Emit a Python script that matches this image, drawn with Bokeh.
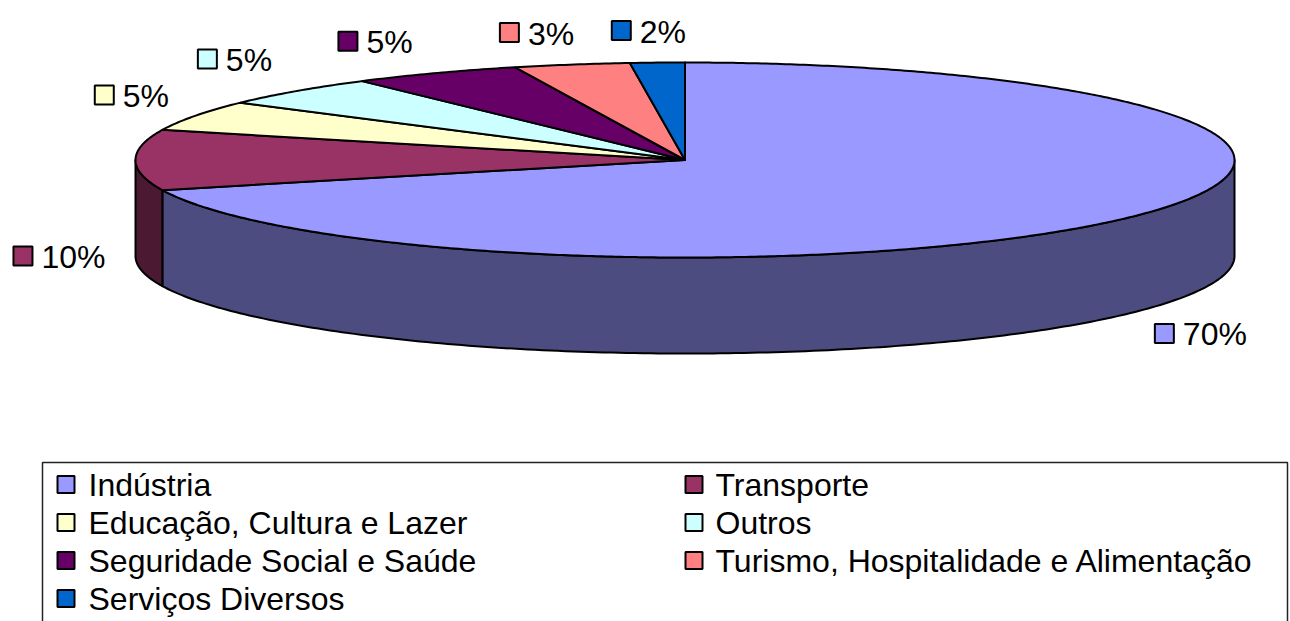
import numpy as np
from bokeh.plotting import figure
from bokeh.models import Range1d, ColumnDataSource
from bokeh.core.properties import value
from bokeh.embed import file_html
from bokeh.resources import INLINE

# ---- data ----
categories = ["Indústria", "Transporte", "Educação, Cultura e Lazer", "Outros",
              "Seguridade Social e Saúde", "Turismo, Hospitalidade e Alimentação",
              "Serviços Diversos"]
shares = [70, 10, 5, 5, 5, 3.4, 1.6]
top_colors = ["#9999FF", "#993366", "#FFFFCC", "#CCFFFF", "#660066", "#FF8080", "#0066CC"]
side_colors = ["#4C4C80", "#4C1933", "#80806A", "#6A8080", "#330033", "#804040", "#003366"]

# ---- layout / style ----
W, H = 1290, 621
FONT = value("Liberation Sans")
p = figure(width=W, height=H, x_range=Range1d(0, W), y_range=Range1d(H, 0),
           output_backend="svg", toolbar_location=None, min_border=0,
           x_axis_location=None, y_axis_location=None)
p.grid.visible = False
p.outline_line_color = None
p.background_fill_color = "white"

cx, cy, rx, ry, depth = 684.5, 159.5, 549.5, 97.5, 96.0

def ell(t_deg, dy=0.0):
    t = np.radians(t_deg)
    return cx + rx * np.cos(t), cy - ry * np.sin(t) + dy

total = float(sum(shares))
starts, ends = [], []
a = 90.0
for s in shares:
    starts.append(a)
    a -= s / total * 360.0
    ends.append(a)

# side walls (front half only)
sx, sy, sc = [], [], []
for st, en, col in zip(starts, ends, side_colors):
    lo, hi = max(en, -180.0), min(st, 0.0)
    if hi > lo:
        t = np.linspace(lo, hi, 200)
        x1, y1 = ell(t)
        x2, y2 = ell(t[::-1], depth)
        sx.append(list(x1) + list(x2))
        sy.append(list(y1) + list(y2))
        sc.append(col)
p.patches("xs", "ys", source=ColumnDataSource(dict(xs=sx, ys=sy, c=sc)),
          fill_color="c", line_color="black", line_width=2, line_join="round")

# top face wedges
tx, ty = [], []
for st, en in zip(starts, ends):
    t = np.linspace(st, en, max(4, int(abs(st - en) * 2)))
    x1, y1 = ell(t)
    tx.append([cx] + list(x1))
    ty.append([cy] + list(y1))
p.patches("xs", "ys", source=ColumnDataSource(dict(xs=tx, ys=ty, c=top_colors)),
          fill_color="c", line_color="black", line_width=2, line_join="round")

# data labels (placed outside each slice, from its mid angle)
FS = 32
MK = 19
mk, mky, mkc, lx, ly, lt = [], [], [], [], [], []
for st, en, s, col in zip(starts, ends, shares, top_colors):
    md = (st + en) / 2.0
    m = np.radians(md)
    c, sn = np.cos(m), np.sin(m)
    txt = f"{int(round(s / total * 100))}%"
    ex, ey = ell(md, depth if sn < 0.05 else 0.0)
    tw = (0.556 * (len(txt) - 1) + 0.889) * FS
    w = MK + 9 + tw
    gap = 22 + 8 * (1 - abs(sn))
    Lx = ex + np.sign(c) * (w / 2 + gap) * min(1.0, abs(c) / 0.35)
    vy = 32 if sn > 0 else 24
    Ly = ey - np.sign(sn) * vy * min(1.0, abs(sn) / 0.7)
    left = Lx - w / 2
    mk.append(left + MK / 2); mky.append(Ly); mkc.append(col)
    lx.append(left + MK + 9); ly.append(Ly + 1); lt.append(txt)
p.rect(mk, mky, width=MK, height=MK, fill_color=mkc, line_color="black", line_width=2)
p.text(lx, ly, text=lt, text_font=FONT, text_font_size=f"{FS}px",
       text_baseline="middle", text_align="left", text_color="black")

# legend
p.quad(left=[42], right=[1287], top=[462], bottom=[660], fill_color=None,
       line_color="#222222", line_width=1.5)
gx, gy, gc, gtx, gty = [], [], [], [], []
for i, (name, col) in enumerate(zip(categories, top_colors)):
    r, cc = divmod(i, 2)
    y = 484 + 38 * r
    gx.append([65.5, 693.5][cc]); gy.append(y); gc.append(col)
    gtx.append([88, 715][cc]); gty.append(y)
p.rect(gx, gy, width=17, height=17, fill_color=gc, line_color="black", line_width=2)
p.text(gtx, gty, text=categories, text_font=FONT, text_font_size="32px",
       text_baseline="middle", text_align="left", text_color="black")

open("out.html", "w").write(file_html(p, INLINE))
